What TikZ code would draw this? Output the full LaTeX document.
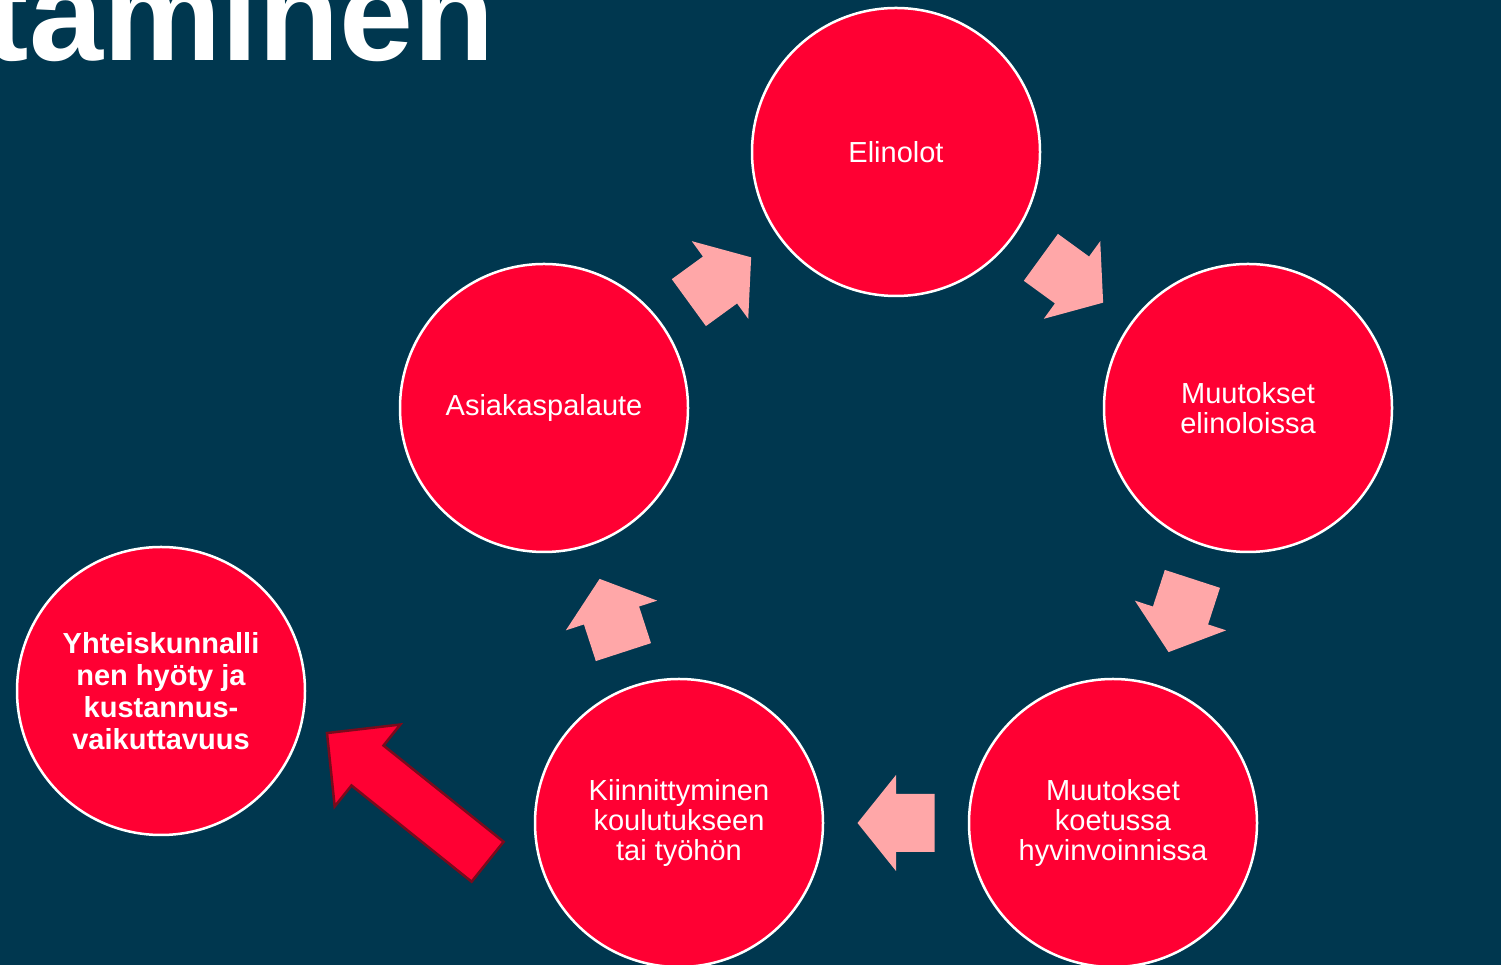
\documentclass[tikz,border=0pt]{standalone}
\usepackage{fontspec}
\setmainfont{Liberation Sans}
\usetikzlibrary{calc}

\definecolor{bgnavy}{HTML}{00374F}
\definecolor{circlered}{HTML}{FF0033}
\definecolor{arrowpink}{HTML}{FFA7A8}
\definecolor{edgered}{HTML}{7A0A1C}

\tikzset{
  stage/.style={circle, fill=circlered, draw=white, line width=2.5pt,
    minimum size=288pt, inner sep=0pt, align=center, text=white,
    font=\fontsize{29}{30}\selectfont},
  pics/blockarrow/.style={code={
    \fill[arrowpink] (-38.5,-29) -- (0,-29) -- (0,-48) -- (38.5,0)
      -- (0,48) -- (0,29) -- (-38.5,29) -- cycle;}},
  pics/bigarrow/.style={code={
    \filldraw[fill=circlered, draw=edgered, line width=2.5pt, line join=miter]
      (-102.9,-25.6) -- (51,-25.6) -- (51,-52.5) -- (102.9,0)
      -- (51,52.5) -- (51,25.6) -- (-102.9,25.6) -- cycle;}}
}

% block arrow half way between two stages
\newcommand{\cyclearrow}[2]{%
  \path let \p1 = ($(#2)-(#1)$), \n1 = {atan2(\y1,\x1)} in
    ($(#1)!0.5!(#2)$) pic[rotate=\n1] {blockarrow};}

\begin{document}
\begin{tikzpicture}[x=1pt, y=1pt]

% Background
\useasboundingbox (0,0) rectangle (1501,965);
\fill[bgnavy] (0,0) rectangle (1501,965);

\node[anchor=base east, inner sep=0pt, text=white,
  font=\fontsize{133}{133}\selectfont\bfseries] (title) at (495,904) {taminen};

% Stages
\node[stage] (elinolot) at (896,813) {Elinolot};
\node[stage] (muutokset) at (1248,557) {Muutokset\\elinoloissa};
\node[stage] (koetussa) at (1113,142) {Muutokset\\koetussa\\hyvinvoinnissa};
\node[stage] (kiinnitys) at (679,142) {Kiinnittyminen\\koulutukseen\\tai työhön};
\node[stage] (palaute) at (544,557) {Asiakaspalaute};

\node[stage, font=\fontsize{29}{32}\selectfont\bfseries] (hyoty) at (161,274)
  {Yhteiskunnalli\\nen hyöty ja\\kustannus-\\vaikuttavuus};

% Cycle
\cyclearrow{palaute}{elinolot}
\cyclearrow{elinolot}{muutokset}
\cyclearrow{muutokset}{koetussa}
\cyclearrow{koetussa}{kiinnitys}
\cyclearrow{kiinnitys}{palaute}

%Out of the cycle
\coordinate (redmid) at (407.3,167.6);
\pic[rotate=141.3] at (redmid) {bigarrow};

\end{tikzpicture}
\end{document}
